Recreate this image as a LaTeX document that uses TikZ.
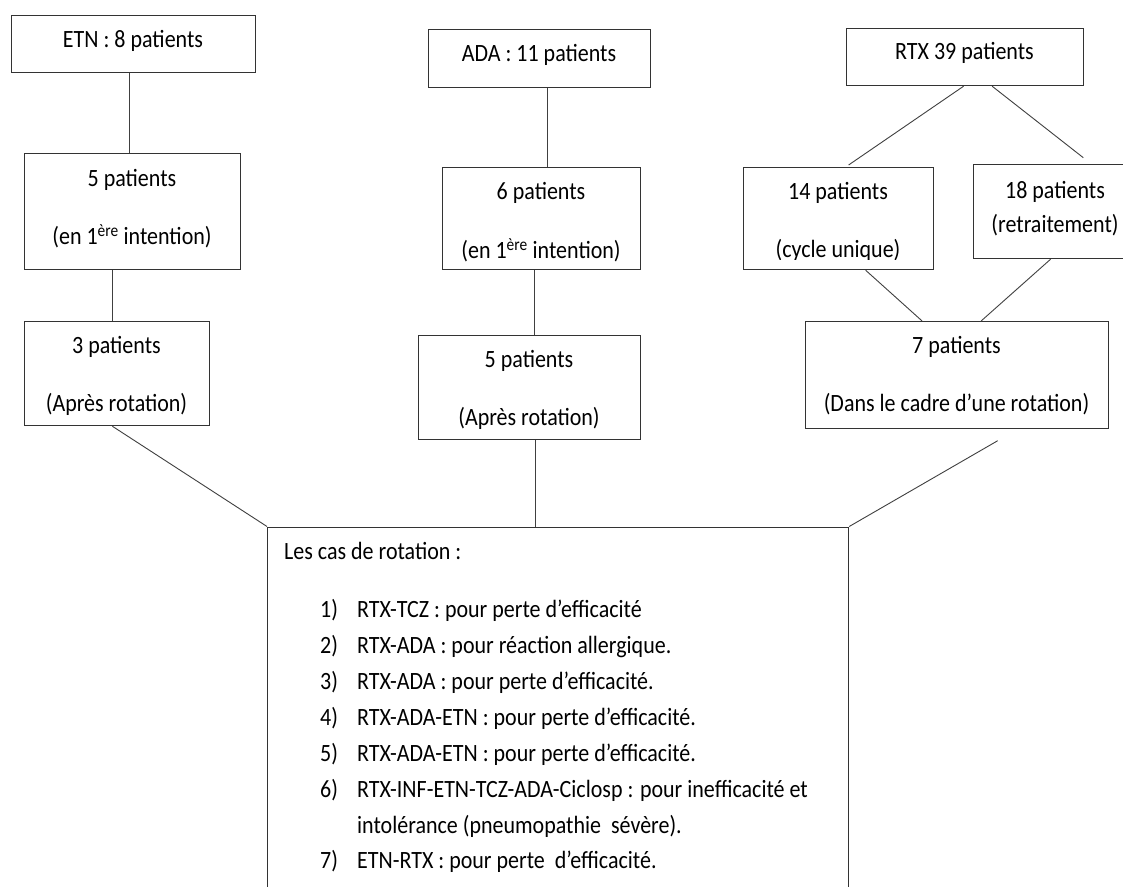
\documentclass[tikz,border=0pt]{standalone}
\usepackage{graphicx}
\usepackage{fontspec}
\setmainfont{Carlito}
\newcommand\vst[1]{\scalebox{1}[1.13]{#1}}
\begin{document}
\begin{tikzpicture}[x=1pt,y=-1pt,
  box/.style={draw=black!80, line width=1.2pt, inner sep=0pt, anchor=north west},
  conn/.style={draw=black!75, line width=0.9pt},
  txt/.style={font=\fontsize{22}{26}\selectfont, inner sep=0pt, anchor=mid, yshift=-2.5pt},
  ltxt/.style={font=\fontsize{22}{26}\selectfont, inner sep=0pt, anchor=mid west, yshift=-2.5pt}]
\useasboundingbox (0,0) rectangle (1123,886);
\clip (0,0) rectangle (1123,886);
\fill[white] (0,0) rectangle (1123,886);
% boxes
\node[box, minimum width=244pt, minimum height=57pt] (etn) at (11,15) {};
\node[box, minimum width=216pt, minimum height=116pt] (p5a) at (24,153) {};
\node[box, minimum width=185pt, minimum height=104pt] (p3a) at (24,321) {};
\node[box, minimum width=222pt, minimum height=58pt] (ada) at (428,29) {};
\node[box, minimum width=198pt, minimum height=102pt] (p6) at (442,167) {};
\node[box, minimum width=222pt, minimum height=104pt] (p5b) at (418,335) {};
\node[box, minimum width=237pt, minimum height=57pt] (rtx) at (846,28) {};
\node[box, minimum width=190pt, minimum height=102pt] (p14) at (743,167) {};
\node[box, minimum width=164pt, minimum height=94pt] (p18) at (973,164) {};
\node[box, minimum width=303pt, minimum height=107pt] (p7) at (805,321) {};
\node[box, minimum width=581pt, minimum height=400pt] (cases) at (267,526.5) {};
% free ends
\coordinate (c18) at (1083.3,157.7);
\coordinate (c7) at (997.7,440.7);
% connectors
\draw[conn] ([xshift=-4pt]etn.south) -- ([xshift=-3pt]p5a.north);
\draw[conn] ([xshift=-20pt]p5a.south) -- ([xshift=-4.5pt]p3a.north);
\draw[conn] ([xshift=-4.8pt]p3a.south) -- (cases.north west);
\draw[conn] ([xshift=8pt]ada.south) -- ([xshift=6pt]p6.north);
\draw[conn] ([xshift=-7pt]p6.south) -- ([xshift=5pt]p5b.north);
\draw[conn] ([xshift=6pt]p5b.south) -- ([xshift=-22.5pt]cases.north);
\draw[conn] ([xshift=-1.5pt]rtx.south) -- ([xshift=10pt,yshift=2pt]p14.north);
\draw[conn] ([xshift=27pt]rtx.south) -- (c18);
\draw[conn] ([xshift=27pt]p14.south) -- ([xshift=-35pt]p7.north);
\draw[conn] ([xshift=-5pt]p18.south) -- ([xshift=24pt]p7.north);
\draw[conn] (c7) -- (cases.north east);
% texts
\node[txt] (tetn) at (133,43) {\vst{ETN : 8 patients}};
\node[txt] (t5a1) at (132,182) {\vst{5 patients}};
\node[txt] (t5a2) at (132,240) {\vst{(en 1\textsuperscript{ère} intention)}};
\node[txt] (t3a1) at (116.5,349) {\vst{3 patients}};
\node[txt] (t3a2) at (116.5,407) {\vst{(Après rotation)}};
\node[txt] (tada) at (539,57) {\vst{ADA : 11 patients}};
\node[txt] (t61) at (541,195) {\vst{6 patients}};
\node[txt] (t62) at (541,254) {\vst{(en 1\textsuperscript{ère} intention)}};
\node[txt] (t5b1) at (529,363) {\vst{5 patients}};
\node[txt] (t5b2) at (529,421) {\vst{(Après rotation)}};
\node[txt] (trtx) at (964.5,55) {\vst{RTX 39 patients}};
\node[txt] (t141) at (838,195) {\vst{14 patients}};
\begin{scope}
\clip (743,167) rectangle (933,259);
\node[txt] (t142) at (838,253) {\vst{(cycle unique)}};
\end{scope}
\node[txt] (t181) at (1055,194) {\vst{18 patients}};
\node[txt] (t182) at (1055,228) {\vst{(retraitement)}};
\node[txt] (t71) at (956.5,349) {\vst{7 patients}};
\node[txt] (t72) at (956.5,407) {\vst{(Dans le cadre d’une rotation)}};
\node[ltxt] (tcas) at (284,555) {\vst{Les cas de rotation :}};
\node[ltxt] (n1) at (320,613) {\vst{1)}};
\node[ltxt] (i1) at (357,613) {\vst{RTX-TCZ : pour perte d’efficacité}};
\node[ltxt] (n2) at (320,649) {\vst{2)}};
\node[ltxt] (i2) at (357,649) {\vst{RTX-ADA : pour réaction allergique.}};
\node[ltxt] (n3) at (320,685) {\vst{3)}};
\node[ltxt] (i3) at (357,685) {\vst{RTX-ADA : pour perte d’efficacité.}};
\node[ltxt] (n4) at (320,721) {\vst{4)}};
\node[ltxt] (i4) at (357,721) {\vst{RTX-ADA-ETN : pour perte d’efficacité.}};
\node[ltxt] (n5) at (320,757) {\vst{5)}};
\node[ltxt] (i5) at (357,757) {\vst{RTX-ADA-ETN : pour perte d’efficacité.}};
\node[ltxt] (n6) at (320,793) {\vst{6)}};
\node[ltxt] (i6) at (357,793) {\vst{RTX-INF-ETN-TCZ-ADA-Ciclosp : pour inefficacité et}};
\node[ltxt] (i6b) at (357,829) {\vst{intolérance (pneumopathie\ \ sévère).}};
\node[ltxt] (n7) at (320,864) {\vst{7)}};
\node[ltxt] (i7) at (357,864) {\vst{ETN-RTX : pour perte\ \ d’efficacité.}};
\end{tikzpicture}
\end{document}
